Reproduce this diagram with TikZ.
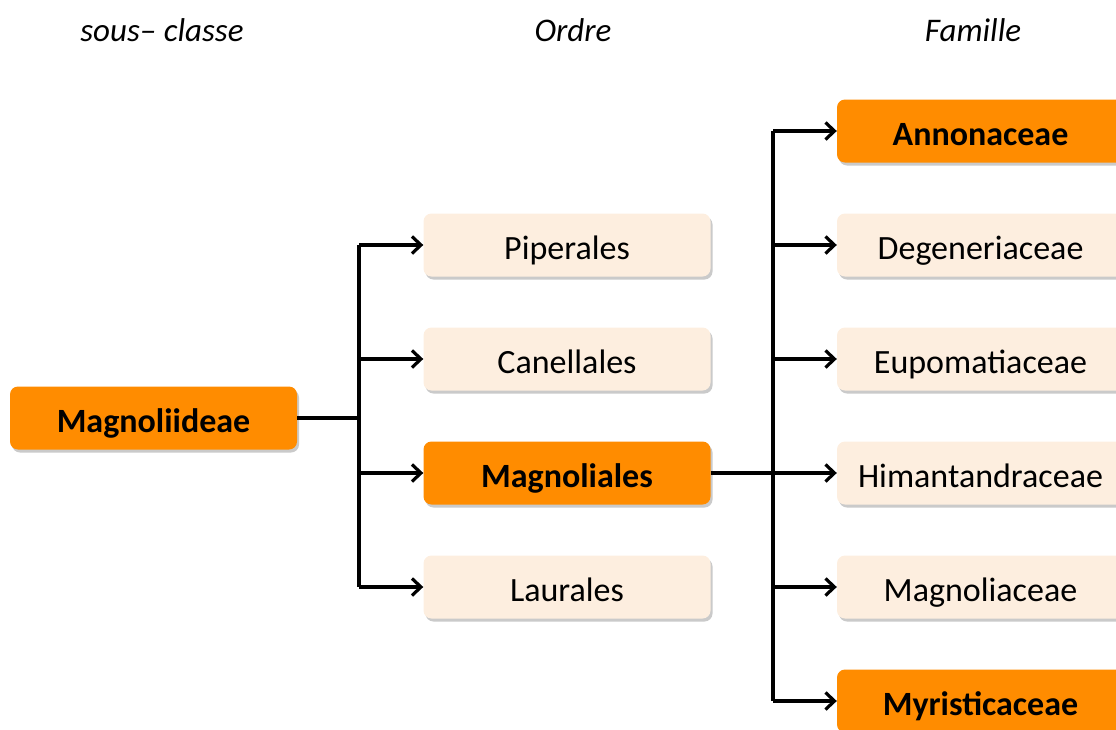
\documentclass[tikz,border=0pt]{standalone}
\usepackage{fontspec}
\setmainfont{Carlito}
\usetikzlibrary{shadows,arrows.meta}
\definecolor{boxorange}{HTML}{FF8C00}
\definecolor{boxlight}{HTML}{FDEEDF}
\tikzset{
  basebox/.style={rounded corners=8pt, minimum width=287pt, minimum height=63pt,
    inner sep=0pt, text height=30pt, text depth=2pt,
    drop shadow={shadow xshift=2pt, shadow yshift=-3pt, opacity=0.35, fill=black!60}},
  hibox/.style={basebox, fill=boxorange, font=\fontsize{34}{40}\selectfont\bfseries},
  lobox/.style={basebox, fill=boxlight, font=\fontsize{34}{40}\selectfont},
  header/.style={font=\fontsize{33}{40}\selectfont\itshape},
  conn/.style={line width=3.2pt},
  arr/.style={line width=3.2pt, -{Straight Barb[length=9pt,width=17pt,line width=3.2pt]}}
}
\begin{document}
\begin{tikzpicture}[x=1pt,y=-1pt]
\useasboundingbox (0,0) rectangle (1116,729);
\clip (0,0) rectangle (1116,729);
\node[header] (h1) at (162,30) {sous– classe};
\node[header] (h2) at (573,30) {Ordre};
\node[header] (h3) at (973,30) {Famille};

\node[hibox] (mag) at (153.5,418) {Magnoliideae};
\node[lobox] (pip) at (567,245) {Piperales};
\node[lobox] (can) at (567,359) {Canellales};
\node[hibox] (mal) at (567,473) {Magnoliales};
\node[lobox] (lau) at (567,587) {Laurales};

\node[hibox] (ann) at (980.5,131) {Annonaceae};
\node[lobox] (deg) at (980.5,245) {Degeneriaceae};
\node[lobox] (eup) at (980.5,359) {Eupomatiaceae};
\node[lobox] (him) at (980.5,473) {Himantandraceae};
\node[lobox] (mgc) at (980.5,587) {Magnoliaceae};
\node[hibox] (myr) at (980.5,701) {Myristicaceae};

\coordinate (j1) at (359,418);
\coordinate (j2) at (773,473);
\draw[conn] (mag.east) -- (j1);
\draw[conn] (j1 |- pip.west) -- (j1 |- lau.west);
\foreach \n in {pip,can,mal,lau} \draw[arr] (j1 |- \n.west) -- (\n.west);

\draw[conn] (mal.east) -- (j2);
\draw[conn] (j2 |- ann.west) -- (j2 |- myr.west);
\foreach \n in {ann,deg,eup,him,mgc,myr} \draw[arr] (j2 |- \n.west) -- (\n.west);
\end{tikzpicture}
\end{document}
